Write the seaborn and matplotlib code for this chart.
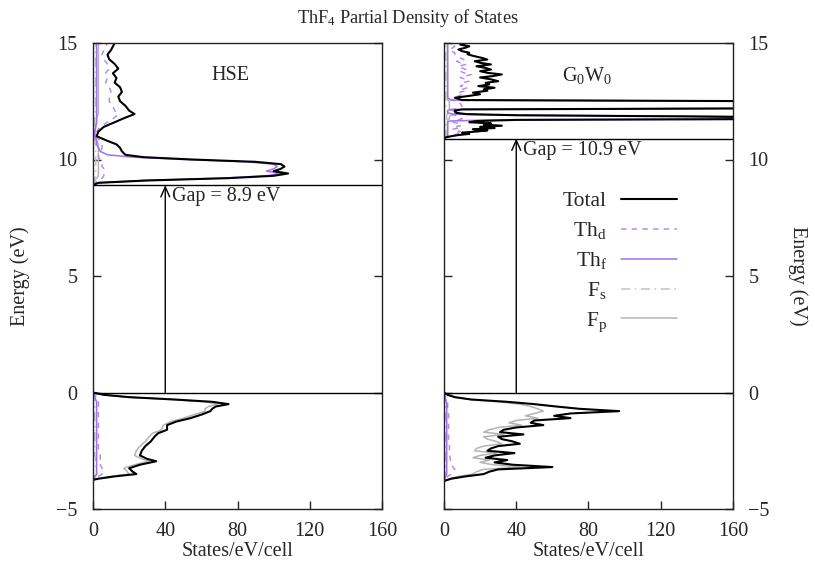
import seaborn as sns
import matplotlib.pyplot as plt
from matplotlib.lines import Line2D

sns.set_style('ticks')
plt.rcParams['font.family'] = ['Liberation Serif', 'DejaVu Serif']
plt.rcParams['mathtext.fontset'] = 'custom'
plt.rcParams['mathtext.rm'] = 'Liberation Serif'
plt.rcParams['mathtext.default'] = 'regular'
plt.rcParams['font.size'] = 14.5
plt.rcParams['axes.linewidth'] = 1.0
plt.rcParams['axes.edgecolor'] = '#222222'

# ---- HSE, valence band (energy in eV, DOS in states/eV/cell)
hse_val_e = [0, -0.1, -0.2, -0.3, -0.4, -0.5, -0.6, -0.7, -0.8, -0.95, -1.1, -1.25, -1.4, -1.6, -1.75,
             -1.9, -2.1, -2.3, -2.5, -2.7, -2.85, -2.95, -3.1, -3.25, -3.4, -3.5, -3.6, -3.7, -3.75]
hse_val_total = [0, 6, 20, 45, 66, 75, 68, 66, 65, 60, 54, 46, 41, 41, 36,
                 34, 32, 29, 27, 26, 30, 35, 26, 20, 22, 24, 12, 3, 0]
hse_val_thd = [0, 1, 2, 2, 3, 3, 3, 3, 3, 3, 3, 3, 3, 3, 3,
               3, 3, 3, 3, 4, 4, 5, 4, 5, 6, 5, 3, 1, 0]
hse_val_thf = [0, 0.5, 1, 1.5, 2, 2, 2, 2, 2, 2, 2, 2, 2, 2, 2,
               2, 2, 2, 2, 2, 2, 2, 2, 2, 2, 2, 1, 0.5, 0]
hse_val_fs = [0, 0.2, 0.5, 0.8, 1, 1, 1, 1, 1, 1, 1, 1, 1, 1, 1,
              1, 1, 1, 1, 1, 1.5, 1.5, 1.5, 2, 2, 2, 1.5, 0.5, 0]
hse_val_fp = [0, 6, 19, 43, 62, 69, 64, 62, 62, 56, 50, 43, 39, 38, 33,
              31, 29, 26, 24, 23, 27, 31, 23, 17, 19, 20, 10, 2, 0]

# ---- HSE, conduction band
hse_con_e = [8.9, 9.0, 9.1, 9.2, 9.3, 9.4, 9.5, 9.6, 9.7, 9.8, 9.9, 10.0, 10.1, 10.2, 10.35, 10.5, 10.65,
             10.8, 11.0, 11.2, 11.4, 11.6, 11.8, 11.95, 12.1, 12.3, 12.5, 12.7, 12.9, 13.1, 13.3, 13.5,
             13.7, 13.9, 14.1, 14.3, 14.5, 14.7, 15.0]
hse_con_total = [0, 3, 30, 75, 100, 108, 100, 104, 106, 104, 90, 55, 28, 18, 16, 15, 13,
                 8, 2, 3, 6, 12, 18, 23, 20, 18, 15, 14, 16, 15, 12, 13,
                 11, 14, 12, 9, 8, 10, 12]
hse_con_thd = [0, 1, 3, 5, 6, 6, 6, 6, 5, 5, 4, 4, 3, 3, 4, 5, 5,
               4, 1, 2, 4, 8, 12, 14, 12, 11, 9, 9, 10, 9, 7, 8,
               7, 9, 8, 6, 5, 6, 8]
hse_con_thf = [0, 3, 28, 72, 96, 104, 96, 100, 102, 100, 85, 50, 22, 8, 4, 3, 2,
               2, 1, 1, 1.5, 2, 2, 2, 2, 2, 2, 2, 2, 2, 2, 2,
               2, 2, 2, 2, 2, 2, 2]
hse_con_fs = [0, 0.3, 0.5, 1, 1.5, 1.5, 1.5, 1.5, 1.5, 1.5, 1.5, 1.5, 1.5, 1.5, 1.5, 1.5, 1.5,
              1, 0.5, 0.5, 1, 1, 1, 1.5, 1.5, 1.5, 1.5, 1.5, 1.5, 1.5, 1.5, 1.5,
              1.5, 1.5, 1.5, 1.5, 1.5, 1.5, 1.5]
hse_con_fp = [0, 0.5, 1, 2, 3, 3, 3, 3, 3, 3, 3, 3, 3, 3, 3, 3, 3,
              2, 1, 1, 1.5, 2, 2, 3, 3, 3, 3, 3, 3, 3, 3, 3,
              3, 3, 3, 3, 3, 3, 3]

# ---- G0W0, valence band
gw_val_e = [0, -0.1, -0.2, -0.3, -0.4, -0.5, -0.6, -0.7, -0.8, -0.9, -1.0, -1.1, -1.2, -1.3, -1.4,
            -1.5, -1.6, -1.7, -1.8, -1.9, -2.0, -2.1, -2.2, -2.3, -2.4, -2.5, -2.6, -2.7, -2.8,
            -2.9, -3.0, -3.1, -3.2, -3.3, -3.4, -3.5, -3.6, -3.7, -3.8]
gw_val_total = [0, 2, 6, 15, 35, 50, 62, 75, 97, 70, 61, 70, 50, 48, 55,
                40, 33, 31, 44, 30, 32, 38, 42, 30, 26, 24, 39, 28, 23,
                35, 28, 38, 60, 30, 25, 22, 12, 4, 0]
gw_val_thd = [0, 0.5, 1, 1.5, 2, 2, 2, 2, 2.5, 2.5, 2.5, 2.5, 2.5, 2.5, 2.5,
              2.5, 2.5, 2.5, 2.5, 2.5, 2.5, 3, 3, 3, 3, 3, 3, 3, 3.5,
              3.5, 4, 4, 5, 6, 5, 4, 2, 1, 0]
gw_val_thf = [0, 0.3, 0.6, 1, 1.2, 1.5, 1.5, 1.5, 1.5, 1.5, 1.5, 1.5, 1.5, 1.5, 1.5,
              1.5, 1.5, 1.5, 1.5, 1.5, 1.5, 1.5, 1.5, 1.5, 1.5, 1.5, 1.5, 1.5, 1.5,
              1.5, 1.5, 1.5, 1.5, 1.5, 1.5, 1.5, 1, 0.5, 0]
gw_val_fs = [0, 0.2, 0.4, 0.6, 0.8, 1, 1, 1, 1, 1, 1, 1, 1, 1, 1,
             1, 1, 1, 1, 1, 1, 1, 1, 1, 1, 1, 1, 1, 1,
             1, 1, 1, 1, 1, 1, 1, 0.8, 0.5, 0]
gw_val_fp = [0, 2, 6, 14, 30, 42, 48, 52, 55, 50, 45, 52, 40, 36, 43,
             30, 25, 22, 33, 22, 24, 29, 32, 22, 18, 17, 29, 20, 16,
             25, 20, 27, 42, 22, 18, 16, 8, 3, 0]

# ---- G0W0, conduction band
gw_con_e = [10.9, 10.95, 11.0, 11.05, 11.1, 11.15, 11.2, 11.25, 11.3, 11.35, 11.4, 11.45, 11.5, 11.55,
            11.6, 11.65, 11.7, 11.75, 11.8, 11.85, 11.9, 11.95, 12.0, 12.05, 12.1, 12.15, 12.2, 12.3,
            12.4, 12.5, 12.55, 12.65, 12.72, 12.8, 12.87, 12.95, 13.01, 13.08, 13.15, 13.22, 13.29,
            13.36, 13.44, 13.52, 13.58, 13.65, 13.72, 13.79, 13.86, 13.93, 14.0, 14.08, 14.15, 14.22,
            14.29, 14.36, 14.45, 14.52, 14.58, 14.65, 14.72, 14.8, 14.86, 14.93, 15.0]
gw_con_total = [0, 1, 4, 8, 14, 10, 18, 24, 16, 28, 20, 32, 22, 26,
                14, 18, 40, 240, 190, 133, 40, 12, 7, 6, 6, 10, 200, 280,
                250, 190, 10, 6, 13, 20, 16, 24, 22, 28, 19, 25, 23,
                30, 26, 20, 27, 32, 24, 20, 26, 23, 18, 26, 20, 17,
                24, 21, 16, 13, 14, 10, 8, 12, 14, 9, 12]
gw_con_thd = [0, 1, 3, 5, 8, 6, 9, 7, 5, 8, 6, 9, 7, 8,
              5, 6, 8, 10, 9, 8, 6, 4, 3, 3, 4, 5, 8, 10,
              9, 8, 4, 5, 8, 10, 8, 12, 10, 13, 9, 11, 10,
              14, 12, 9, 12, 15, 11, 9, 12, 10, 8, 12, 9, 7,
              11, 9, 7, 6, 6, 4, 3, 5, 6, 4, 5]
gw_con_thf = [0, 1, 2, 2, 2, 2, 2, 2, 2, 2, 2, 2, 2, 2,
              2, 3, 25, 200, 180, 170, 30, 5, 2, 2, 2, 4, 180, 260,
              240, 185, 4, 2, 2, 2, 2, 2, 2, 2, 2, 2, 2,
              2, 2, 2, 2, 2, 2, 2, 2, 2, 2, 2, 2, 2,
              2, 2, 2, 2, 2, 2, 2, 2, 2, 2, 2]
gw_con_fs = [0, 0.5, 1, 1, 1, 1, 1, 1, 1, 1, 1, 1, 1, 1,
             1, 1, 1, 1.5, 1.5, 1.5, 1.5, 2, 2, 2, 1.5, 1, 1, 1,
             1, 1, 1, 1, 1, 1, 1, 1, 1, 1, 1, 1, 1,
             1, 1, 1, 1, 1, 1, 1, 1, 1, 1, 1, 1, 1,
             1, 1, 1, 1, 1, 1, 1, 1, 1, 1, 1]
gw_con_fp = [0, 0.5, 1, 2, 2, 2, 2, 2, 2, 2, 2, 2, 2, 2,
             2, 2, 2, 3, 3, 3, 4, 6, 8, 7, 5, 3, 3, 3,
             3, 3, 2, 2, 2, 2, 2, 2, 2, 2, 2, 2, 2,
             2, 2, 2, 2, 2, 2, 2, 2, 2, 2, 2, 2, 2,
             2, 2, 2, 2, 2, 2, 2, 2, 2, 2, 2]

species = ['Total', 'Th_d', 'Th_f', 'F_s', 'F_p']
legend_labels = ['Total', 'Th$_d$', 'Th$_f$', 'F$_s$', 'F$_p$']
styles = {
    'Total': dict(color='black', linewidth=1.5, linestyle='-'),
    'Th_d': dict(color='#b48af8', linewidth=1.1, linestyle=(0, (3.5, 3.5))),
    'Th_f': dict(color='#a070f2', linewidth=1.1, linestyle='-'),
    'F_s': dict(color='#c2c2c2', linewidth=1.1, linestyle=(0, (6, 3, 1, 3))),
    'F_p': dict(color='#b4b4b4', linewidth=1.1, linestyle='-'),
}
draw_order = ['F_p', 'F_s', 'Th_d', 'Th_f', 'Total']

panels = [
    dict(name='HSE', gap=8.9,
         val_e=hse_val_e, con_e=hse_con_e,
         val={'Total': hse_val_total, 'Th_d': hse_val_thd, 'Th_f': hse_val_thf,
              'F_s': hse_val_fs, 'F_p': hse_val_fp},
         con={'Total': hse_con_total, 'Th_d': hse_con_thd, 'Th_f': hse_con_thf,
              'F_s': hse_con_fs, 'F_p': hse_con_fp}),
    dict(name='G$_0$W$_0$', gap=10.9,
         val_e=gw_val_e, con_e=gw_con_e,
         val={'Total': gw_val_total, 'Th_d': gw_val_thd, 'Th_f': gw_val_thf,
              'F_s': gw_val_fs, 'F_p': gw_val_fp},
         con={'Total': gw_con_total, 'Th_d': gw_con_thd, 'Th_f': gw_con_thf,
              'F_s': gw_con_fs, 'F_p': gw_con_fp}),
]

fig = plt.figure(figsize=(8.15, 5.71), dpi=100)
W, H = 815, 571
ax_l = fig.add_axes([93 / W, 62 / H, 289 / W, 466 / H])
ax_r = fig.add_axes([444 / W, 62 / H, 289 / W, 466 / H])

for ax, p in zip([ax_l, ax_r], panels):
    for sp in draw_order:
        for e, d in [(p['val_e'], p['val'][sp]), (p['con_e'], p['con'][sp])]:
            sns.lineplot(x=d, y=e, sort=False, estimator=None, ax=ax, **styles[sp])
    ax.axhline(0, color='black', linewidth=1.0)
    ax.axhline(p['gap'], color='black', linewidth=1.0)
    ax.annotate('', xy=(40, p['gap']), xytext=(40, 0),
                arrowprops=dict(arrowstyle='->,head_length=0.5,head_width=0.22',
                                color='black', lw=1.0, shrinkA=0, shrinkB=0))
    ax.text(44, p['gap'] - 0.1, f"Gap = {p['gap']} eV", ha='left', va='top')
    ax.text(76 if ax is ax_l else 79, 13.6, p['name'], ha='center', va='center')
    ax.set(xlim=(0, 160), ylim=(-5, 15), xticks=[0, 40, 80, 120, 160], yticks=[-5, 0, 5, 10, 15])
    ax.set_xlabel('States/eV/cell', labelpad=1)
    ax.tick_params(direction='in', length=6, width=1.0, left=True, right=True,
                   top=False, bottom=True, pad=9)
    ax.tick_params(axis='y', pad=11)

ax_l.set_ylabel('Energy (eV)', labelpad=19)
ax_r.tick_params(labelleft=False, labelright=True)
fig.text(798 / W, 1 - 276 / H, 'Energy (eV)', rotation=-90, ha='center', va='center')

handles = [Line2D([], [], **styles[sp]) for sp in species]
ax_r.legend(handles, legend_labels, loc='upper right', bbox_to_anchor=(0.872, 0.724),
            frameon=False, markerfirst=False, handlelength=2.6, handletextpad=0.65,
            labelspacing=0.42, fontsize=15.5)

fig.text(0.5, 1 - 18 / H, 'ThF$_4$ Partial Density of States', ha='center', va='center',
         fontsize=13.2)

fig.savefig('out.png', dpi=100)
